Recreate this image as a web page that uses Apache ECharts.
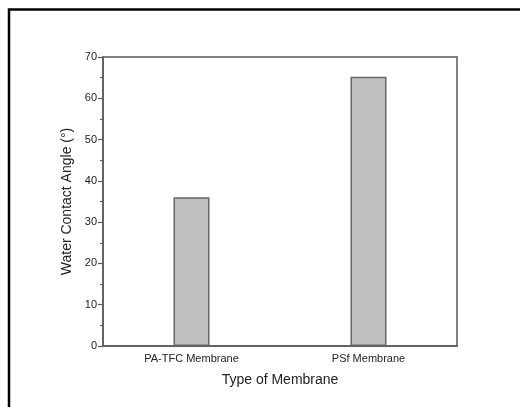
<!DOCTYPE html>
<html>
<head>
<meta charset="utf-8">
<script src="https://cdn.jsdelivr.net/npm/echarts@6/dist/echarts.min.js"></script>
<style>
  html, body { margin: 0; padding: 0; background: #fff; }
  #chart { width: 520px; height: 407px; }
</style>
</head>
<body>
<div id="chart"></div>
<script>
const membranes = ['PA-TFC Membrane', 'PSf Membrane'];
const contactAngle = [36, 65.2];
const yTicks = [0, 70, 10];

const chart = echarts.init(document.getElementById('chart'));
const axisGray = '#5a5a5a';

const option = {
  backgroundColor: '#fff',
  animation: false,
  textStyle: { fontFamily: 'Liberation Sans, Arial, sans-serif' },
  graphic: [
    {
      type: 'polyline',
      shape: { points: [[9, 407], [9, 9.5], [520, 9.5]] },
      style: { stroke: '#000', lineWidth: 2.5, fill: null }
    }
  ],
  grid: {
    left: 103, right: 63, top: 57, bottom: 61,
    show: true, borderColor: axisGray, borderWidth: 1.5, backgroundColor: 'transparent'
  },
  xAxis: {
    type: 'category',
    data: membranes,
    boundaryGap: true,
    name: 'Type of Membrane',
    nameLocation: 'middle',
    nameGap: 27,
    nameTextStyle: { fontSize: 14, color: '#222' },
    axisLine: { lineStyle: { color: axisGray, width: 1.5 } },
    axisTick: { show: false },
    axisLabel: { fontSize: 11, color: '#222', margin: 7 }
  },
  yAxis: {
    type: 'value',
    min: yTicks[0], max: yTicks[1], interval: yTicks[2],
    name: 'Water Contact Angle (°)',
    nameLocation: 'middle',
    nameGap: 24,
    nameTextStyle: { fontSize: 14, color: '#222' },
    axisLine: { show: true, lineStyle: { color: axisGray, width: 1.5 } },
    axisTick: { show: true, inside: false, length: 5, lineStyle: { color: axisGray, width: 1.2 } },
    minorTick: { show: true, splitNumber: 2, length: 3, lineStyle: { color: axisGray, width: 1.2 } },
    splitLine: { show: false },
    axisLabel: { fontSize: 11, color: '#222', margin: 6 }
  },
  series: [
    {
      type: 'bar',
      data: contactAngle,
      barWidth: 36,
      itemStyle: { color: '#c0c0c0', borderColor: '#666', borderWidth: 1.5 }
    }
  ]
};

chart.setOption(option);
</script>
</body>
</html>
